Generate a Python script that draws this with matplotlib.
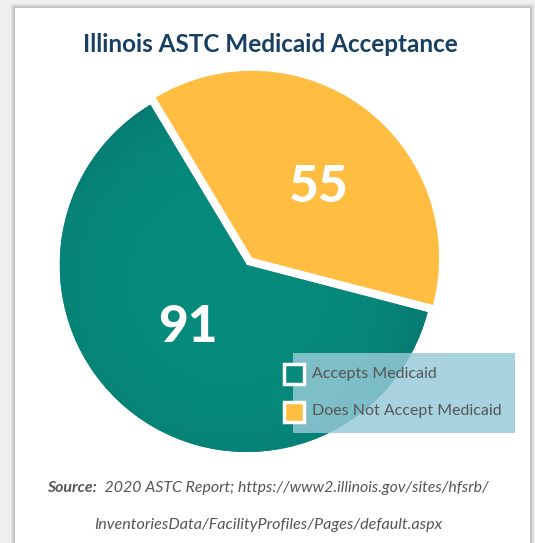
import numpy as np
import matplotlib
matplotlib.use("Agg")
import matplotlib.pyplot as plt
from matplotlib.patches import Rectangle

# data
labels = ["Accepts Medicaid", "Does Not Accept Medicaid"]
counts = [91, 55]
colors = ["#07897C", "#FFBD42"]

title = "Illinois ASTC Medicaid Acceptance"
source_head = "Source:"
source_rest = "  2020 ASTC Report; https://www2.illinois.gov/sites/hfsrb/"
source_line2 = "InventoriesData/FacilityProfiles/Pages/default.aspx"

W, H = 535, 543
plt.rcParams["font.family"] = ["Lato", "DejaVu Sans"]

fig = plt.figure(figsize=(W / 100, H / 100), dpi=100)
fig.patch.set_facecolor("#efefef")
ax = fig.add_axes([0, 0, 1, 1])
ax.set_xlim(0, W)
ax.set_ylim(0, H)
ax.axis("off")


def Y(y):
    return H - y


# card with soft shadow
for i, a in enumerate([0.05, 0.05, 0.05, 0.06]):
    g = 4 - i
    ax.add_patch(Rectangle((15 - g, 0), 515 + 2 * g, Y(8) + g, color="black",
                           alpha=a, lw=0, zorder=0))
ax.add_patch(Rectangle((15, 0), 515, Y(8), color="white", lw=0, zorder=1))

ax.text(270, Y(45), title, ha="center", va="center", fontsize=17.5,
        fontweight="bold", color="#163F62", zorder=5)

# pie
cx, cy, r = 246.7, Y(265), 187
wedges, _ = ax.pie(counts, colors=colors, startangle=121, counterclock=True,
                   explode=[0, 9], radius=r, center=(cx, cy),
                   wedgeprops=dict(linewidth=0), frame=True)
for w in wedges:
    w.set_zorder(2)

# radial shading on the teal slice
yy, xx = np.mgrid[-1:1:400j, -1:1:400j]
dist = np.clip(np.sqrt((xx + 0.1) ** 2 + (yy - 0.1) ** 2), 0, 1.2) / 1.2
c0 = np.array([7, 139, 124]) / 255
c1 = np.array([4, 112, 106]) / 255
t = dist ** 4
img = c0[None, None, :] * (1 - t[..., None]) + c1[None, None, :] * t[..., None]
im = ax.imshow(img, extent=(cx - r, cx + r, cy - r, cy + r), zorder=3,
               interpolation="bilinear")
im.set_clip_path(wedges[0])

ax.set_xlim(0, W)
ax.set_ylim(0, H)
ax.set_aspect("auto")
ax.axis("off")

label_pos = [(188, 328), (318, 187)]
for (x, y), v in zip(label_pos, counts):
    ax.text(x, Y(y), str(v), ha="center", va="center", fontsize=37,
            fontweight="black", color="white", zorder=6)

# legend
ax.add_patch(Rectangle((293, Y(433)), 222, 80, color="#97CAD8", alpha=0.83,
                       lw=0, zorder=7))
for i, (lab, col) in enumerate(zip(labels, colors)):
    yc = 374 + 37.5 * i
    ax.add_patch(Rectangle((283.5, Y(yc) - 10), 20, 20, facecolor=col,
                           edgecolor="white", lw=2.5, zorder=8))
    ax.text(311.5, Y(yc), lab, ha="left", va="center", fontsize=11.5,
            color="#555555", zorder=8)

# source
fig.canvas.draw()
rend = fig.canvas.get_renderer()
t1 = ax.text(0, Y(488), source_head, ha="left", va="center", fontsize=11.4,
             fontweight="bold", style="italic", color="#555555")
t2 = ax.text(0, Y(488), source_rest, ha="left", va="center", fontsize=11.4,
             style="italic", color="#555555")
w1 = t1.get_window_extent(rend).width
w2 = t2.get_window_extent(rend).width
x0 = 268 - (w1 + w2) / 2
t1.set_x(x0)
t2.set_x(x0 + w1)
ax.text(268, Y(525), source_line2, ha="center", va="center", fontsize=11.6,
        style="italic", color="#555555")

fig.savefig("out.png", dpi=100, facecolor=fig.get_facecolor())
